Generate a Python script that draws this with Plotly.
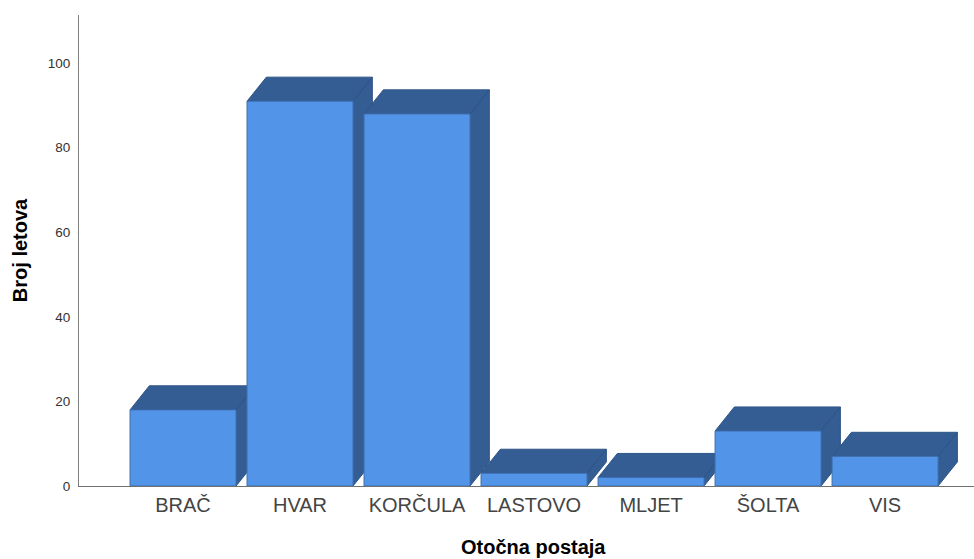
import plotly.graph_objects as go

categories = ["BRAČ", "HVAR", "KORČULA", "LASTOVO", "MLJET", "ŠOLTA", "VIS"]
values = [18, 91, 88, 3, 2, 13, 7]
y_ticks = [0, 20, 40, 60, 80, 100]
x_title = "Otočna postaja"
y_title = "Broj letova"

FRONT = "#5294e8"
DARK = "#345d94"
DARK_EDGE = "#2f5587"
FRONT_EDGE = "#3f6fae"
BAR_W = 0.906
DX = 0.165
DY = 5.7

fig = go.Figure()
for i, (c, v) in enumerate(zip(categories, values)):
    l, r = i - BAR_W / 2, i + BAR_W / 2
    # depth faces first, then the front, so each bar covers the previous bar's side
    fig.add_trace(go.Scatter(
        x=[l, r, r + DX, l + DX, l, None, r, r + DX, r + DX, r, r],
        y=[v, v, v + DY, v + DY, v, None, 0, DY, v + DY, v, 0],
        mode="lines", fill="toself", fillcolor=DARK,
        line=dict(color=DARK_EDGE, width=1), hoverinfo="skip", showlegend=False))
    fig.add_trace(go.Scatter(
        x=[l, r, r, l, l], y=[0, 0, v, v, 0],
        mode="lines", fill="toself", fillcolor=FRONT,
        line=dict(color=FRONT_EDGE, width=1), name=c, hoverinfo="name", showlegend=False))

fig.update_layout(
    width=974, height=559, margin=dict(l=79, r=0, t=15, b=73),
    paper_bgcolor="white", plot_bgcolor="white",
    font=dict(family="Liberation Sans", color="#111111"),
    xaxis=dict(range=[-0.889, 6.76], tickmode="array",
               tickvals=list(range(len(categories))), ticktext=categories,
               tickfont=dict(size=20, color="#444444"), ticks="", ticklabelstandoff=1,
               showgrid=False, zeroline=False,
               showline=True, linecolor="#707070", linewidth=1),
    yaxis=dict(range=[0, 111.4], tickmode="array", tickvals=y_ticks,
               tickfont=dict(size=13.5, color="#333333"), ticks="", ticklabelstandoff=5,
               showgrid=False, zeroline=False, showline=True, linecolor="#808080", linewidth=1,
               title=dict(text=f"<b>{y_title}</b>", font=dict(size=20, color="black"), standoff=14)),
    annotations=[dict(text=f"<b>{x_title}</b>", xref="paper", yref="paper", x=0.508, y=0,
                      xanchor="center", yanchor="middle", yshift=-61, showarrow=False,
                      font=dict(size=20, color="black"))],
)
fig.write_html("out.html", post_script="document.body.style.margin='0';",
               config=dict(displayModeBar=False))
